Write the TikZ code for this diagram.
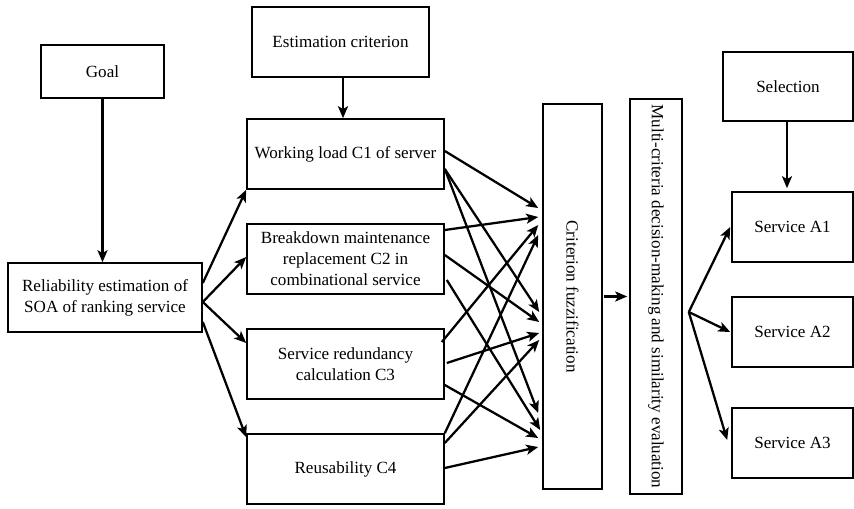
\documentclass[tikz,border=0pt]{standalone}
\usepackage{fontspec}
\setmainfont{Liberation Serif}
\usetikzlibrary{arrows.meta,calc}

\tikzset{every picture/.style={line width=0.75pt}}
\tikzset{
  box/.style={draw, line width=1.2pt, align=center, inner sep=1pt,
    font=\fontsize{12.8pt}{15.8pt}\selectfont},
  tall/.style={rotate=-90, inner sep=0pt, font=\fontsize{12.8pt}{15.8pt}\selectfont},
  link/.style={line width=1.7pt, -{Stealth[length=9pt,width=7.5pt,inset=2.2pt]}},
}

\begin{document}
\begin{tikzpicture}[x=0.75pt,y=0.75pt,yscale=-1,xscale=1]
%set diagram to 854 x 508
\path[use as bounding box] (0,0) rectangle (854,508);

%Shape: Rectangle [goal]
\node[box, minimum width=92.25pt, minimum height=39.75pt] (goal) at (102.5,71.5) {Goal};
%Shape: Rectangle [reliability]
\node[box, minimum width=145.5pt, minimum height=51.75pt] (rel) at (105,297.5) {Reliability estimation of\\SOA of ranking service};
%Shape: Rectangle [estimation criterion]
\node[box, minimum width=132.75pt, minimum height=52.5pt] (est) at (340.5,42) {Estimation criterion};

%Shape: Rectangle [criteria C1..C4]
\node[box, minimum width=147.75pt, minimum height=52.5pt] (C1) at (345.5,154) {Working load C1 of server};
\node[box, minimum width=147.75pt, minimum height=52.5pt] (C2) at (345.5,259) {Breakdown maintenance\\replacement C2 in\\combinational service};
\node[box, minimum width=147.75pt, minimum height=52.5pt] (C3) at (345.5,364) {Service redundancy\\calculation C3};
\node[box, minimum width=147.75pt, minimum height=52.5pt] (C4) at (345.5,469) {Reusability C4};

%Shape: Rectangle [fuzzification]
\node[box, minimum width=44.25pt, minimum height=288.75pt] (fuzz) at (572.5,296.5) {};
% Text Node
\node[tall] (fuzztext) at (fuzz.center) {Criterion fuzzification};
%Shape: Rectangle [decision making]
\node[box, minimum width=39pt, minimum height=296.25pt] (mcdm) at (656,296.5) {};
% Text Node
\node[tall] (mcdmtext) at (mcdm.center) {Multi-criteria decision-making and similarity evaluation};

%Shape: Rectangle [selection]
\node[box, minimum width=97.5pt, minimum height=51.75pt] (sel) at (788,86.5) {Selection};
%Shape: Rectangle [services]
\node[box, minimum width=90.75pt, minimum height=52.5pt] (A1) at (792.5,227) {Service A1};
\node[box, minimum width=90.75pt, minimum height=52.5pt] (A2) at (792.5,332) {Service A2};
\node[box, minimum width=90.75pt, minimum height=52.5pt] (A3) at (792.5,443) {Service A3};

%Straight Lines [downward]
\draw[link] (goal.south) -- (goal.south |- rel.north);
\draw[link] ($(est.south)+(2.5,0)$) -- ($(est.south |- C1.north)+(2.5,0)$);
\draw[link] ($(sel.south)+(-1,0)$) -- ($(sel.south |- A1.north)+(-1,-3)$);

%Straight Lines [goal to criteria]
\draw[link] ($(rel.east)+(0,-14.5)$) -- (C1.south west);
\draw[link] ($(rel.east)+(0,4.5)$) -- ($(C2.west)+(0,-2)$);
\draw[link] ($(rel.east)+(0,4.5)$) -- ($(C3.west)+(0,-21)$);
\draw[link] ($(rel.east)+(0,24.5)$) -- ($(C4.north west)+(0,4)$);

%ports on the fuzzification box
\coordinate (in1) at ($(fuzz.west)+(-4,-88.5)$);
\coordinate (in2) at ($(fuzz.west)+(-4,-79.5)$);
\coordinate (in3) at ($(fuzz.west)+(-4,-71.5)$);
\coordinate (in4) at ($(fuzz.west)+(-4,-61.5)$);
\coordinate (in5) at ($(fuzz.west)+(-3,15.5)$);
\coordinate (in6) at ($(fuzz.west)+(-3,25.5)$);
\coordinate (in7) at ($(fuzz.west)+(-3,36.5)$);
\coordinate (in8) at ($(fuzz.west)+(-3,43.5)$);
\coordinate (in9) at ($(fuzz.west)+(-4,116.5)$);
\coordinate (in10) at ($(fuzz.west)+(-2,133.5)$);
\coordinate (in11) at ($(fuzz.west)+(-4,141.5)$);
\coordinate (in12) at ($(fuzz.west)+(-4,150.5)$);

%Straight Lines [criteria to fuzzification]
\draw[link] ($(C1.east)+(0,-3)$) -- (in1);
\draw[link] ($(C1.east)+(0,15)$) -- (in5);
\draw[link] ($(C1.east)+(0,15)$) -- (in9);
\draw[link] ($(C2.east)+(0,-29)$) -- (in2);
\draw[link] ($(C2.east)+(0,-4)$) -- (in6);
\draw[link] ($(C2.east)+(2,21)$) -- (in10);
\draw[link] ($(C3.east)+(-3,-22)$) -- (in3);
\draw[link] ($(C3.east)+(2,-1)$) -- (in7);
\draw[link] ($(C3.east)+(0,21)$) -- (in11);
\draw[link] (C4.north east) -- (in4);
\draw[link] ($(C4.east)+(0,-26)$) -- (in8);
\draw[link] ($(C4.east)+(0,-1)$) -- (in12);

%Straight Lines [to decision and services]
\draw[link] ($(fuzz.east)+(1,0)$) -- ($(mcdm.west)+(-2,0)$);
\coordinate (fork) at ($(mcdm.east)+(6,15.5)$);
\draw[link] (fork) -- ($(A1.west)+(-1,0)$);
\draw[link] (fork) -- ($(A2.west)+(-1,0)$);
\draw[link] (fork) -- ($(A3.west)+(-4,-3)$);

\end{tikzpicture}
\end{document}
